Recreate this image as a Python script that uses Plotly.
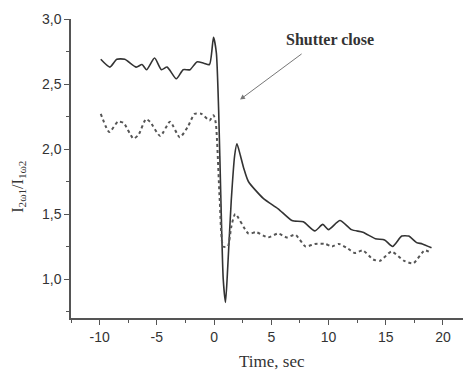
import plotly.graph_objects as go

# Solid series (upper curve)
t_solid = [-9.9, -9.1, -8.5, -7.8, -6.8, -6.3, -5.9, -5.2, -4.6, -4.1, -3.3, -2.7, -2.1, -1.5,
           -0.9, -0.4, -0.05, 0.2, 0.4, 0.6, 0.8, 1.0, 1.2, 1.5, 1.8, 2.0, 2.3, 2.6, 3.0,
           4.3, 5.6, 6.8, 7.8, 8.8, 9.5, 10.0, 11.0, 12.0, 13.0, 14.1, 14.9, 15.6, 16.4,
           17.0, 17.7, 18.2, 19.0]
v_solid = [2.69, 2.63, 2.69, 2.69, 2.63, 2.65, 2.61, 2.70, 2.61, 2.63, 2.54, 2.61, 2.61, 2.67,
           2.66, 2.65, 2.86, 2.74, 2.30, 1.60, 1.00, 0.82, 1.10, 1.60, 1.95, 2.04, 1.95, 1.85, 1.75,
           1.62, 1.54, 1.45, 1.44, 1.37, 1.42, 1.38, 1.45, 1.38, 1.36, 1.31, 1.30, 1.25, 1.33,
           1.33, 1.28, 1.27, 1.24]

# Dotted series (lower curve)
t_dot = [-9.9, -9.15, -8.4, -7.9, -7.05, -6.6, -5.95, -5.6, -4.7, -3.85, -3.0, -2.3, -1.7, -1.1,
         -0.4, -0.05, 0.15, 0.5, 0.8, 1.2, 1.5, 1.85, 3.0, 3.7, 4.7, 5.6, 6.35, 7.1, 8.0, 8.8,
         9.7, 10.3, 10.9, 11.6, 12.3, 13.0, 13.9, 14.5, 15.5, 16.6, 17.4, 18.4, 19.0]
v_dot = [2.27, 2.13, 2.21, 2.20, 2.08, 2.11, 2.23, 2.21, 2.10, 2.21, 2.09, 2.17, 2.27, 2.27,
         2.22, 2.26, 2.20, 1.60, 1.25, 1.25, 1.40, 1.50, 1.35, 1.36, 1.32, 1.35, 1.32, 1.34, 1.25, 1.27,
         1.27, 1.25, 1.27, 1.24, 1.20, 1.22, 1.15, 1.14, 1.21, 1.14, 1.12, 1.22, 1.20]

x_ticks = [-10, -5, 0, 5, 10, 15, 20]
x_labels = ["-10", "-5", "0", "5", "10", "15", "20"]
y_ticks = [1.0, 1.5, 2.0, 2.5, 3.0]
y_labels = ["1,0", "1,5", "2,0", "2,5", "3,0"]

fig = go.Figure()
fig.add_trace(go.Scatter(x=t_solid, y=v_solid, mode="lines",
                         line=dict(color="#333333", width=1.6, shape="spline", smoothing=0.6),
                         showlegend=False))
fig.add_trace(go.Scatter(x=t_dot, y=v_dot, mode="lines",
                         line=dict(color="#555555", width=2, dash="dot", shape="spline", smoothing=0.6),
                         showlegend=False))

axis_font = dict(family="Liberation Sans, Arial, sans-serif", size=14, color="#333")
serif = "Liberation Serif, Times New Roman, serif"

fig.update_layout(
    width=463, height=364,
    margin=dict(l=63, r=4, t=11, b=54),
    paper_bgcolor="white", plot_bgcolor="white",
    xaxis=dict(range=[-12.5, 22.1], tickvals=x_ticks, ticktext=x_labels, ticks="outside", ticklen=5,
               tickcolor="#555", showline=True, linecolor="#555", linewidth=1.5,
               showgrid=False, zeroline=False, tickfont=axis_font,
               minor=dict(dtick=2.5, tick0=0, ticks="outside", ticklen=3, tickcolor="#555")),
    yaxis=dict(range=[0.7, 3.0], tickvals=y_ticks, ticktext=y_labels, ticks="outside", ticklen=5,
               tickcolor="#555", showline=True, linecolor="#555", linewidth=1.5,
               showgrid=False, zeroline=False, tickfont=axis_font,
               minor=dict(dtick=0.25, tick0=0, ticks="outside", ticklen=3, tickcolor="#555")),
)

fig.add_annotation(x=-0.162, y=0.44, xref="paper", yref="paper",
                   text="I<sub>2ω1</sub>/I<sub>1ω2</sub>", textangle=-90, showarrow=False,
                   font=dict(family=serif, size=16, color="#333"))
fig.add_annotation(x=0.508, y=-0.147, xref="paper", yref="paper", yanchor="middle",
                   text="Time, sec", showarrow=False,
                   font=dict(family=serif, size=17, color="#333"))

fig.add_annotation(x=2.27, y=2.38, ax=7.78, ay=2.74, xref="x", yref="y", axref="x", ayref="y",
                   text="", showarrow=True, arrowhead=2, arrowsize=1, arrowwidth=1, arrowcolor="#777")
fig.add_annotation(x=10.14, y=2.84, xref="x", yref="y", text="<b>Shutter close</b>", showarrow=False,
                   font=dict(family=serif, size=16, color="#333"))

fig.write_html("out.html")
